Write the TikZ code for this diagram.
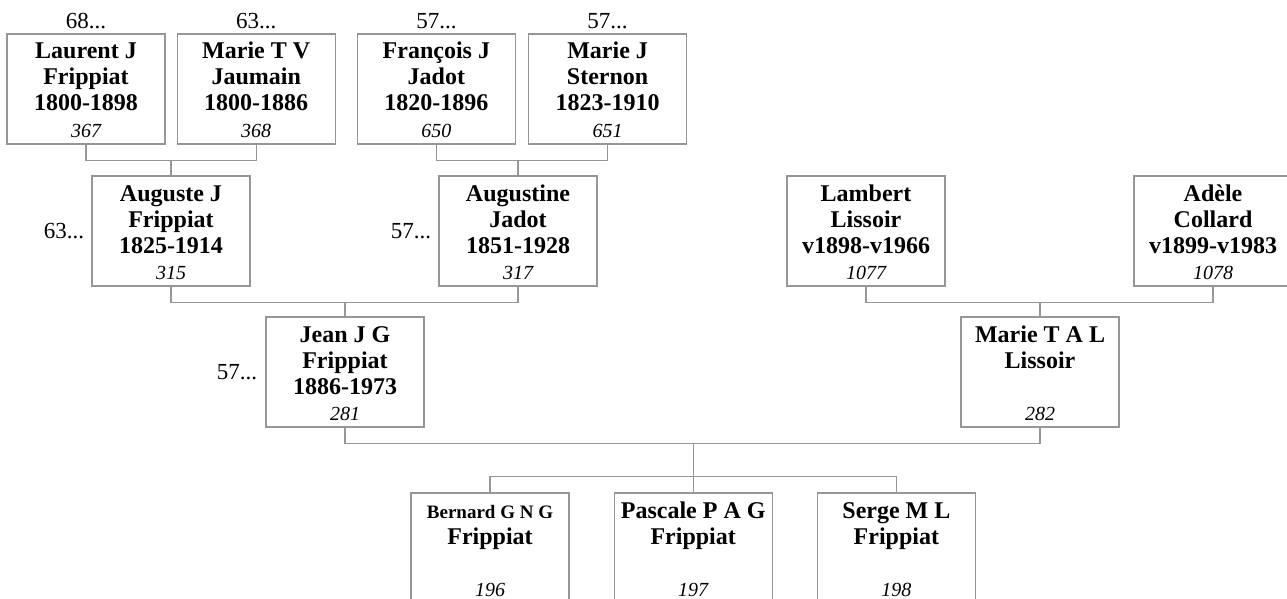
\documentclass[tikz,border=0pt]{standalone}
\usepackage{fontspec}
\setmainfont{Liberation Serif}
\usetikzlibrary{positioning,calc}
\definecolor{linkgray}{RGB}{150,150,150}
\newcommand{\ptop}{\rule{0pt}{22pt}}
\newcommand{\pnum}[1]{\rule[-4pt]{0pt}{4pt}{\fontsize{20}{26}\selectfont\mdseries\itshape #1}}

\begin{document}
\begin{tikzpicture}[x=1pt, y=-1pt,
    person/.style={draw=linkgray, line width=1.2pt, minimum width=158pt, minimum height=110pt, inner sep=0pt, align=center, font=\fontsize{24}{26}\selectfont\bfseries},
    gen/.style={inner sep=0pt, text depth=0pt, font=\fontsize{23}{26}\selectfont},
    link/.style={draw=linkgray, line width=1.2pt}
]
\path[fill=white, use as bounding box] (0,0) rectangle (1287,599);
\clip (0,0) rectangle (1287,599);
% great-grandparents
\node[person] (laurent) at (86,89) {\ptop Laurent J\\Frippiat\\1800-1898\\\pnum{367}};
\node[person, right=11pt of laurent] (marietv) {\ptop Marie T V\\Jaumain\\1800-1886\\\pnum{368}};
\node[person, right=21pt of marietv] (francois) {\ptop François J\\Jadot\\1820-1896\\\pnum{650}};
\node[person, right=12pt of francois] (mariej) {\ptop Marie J\\Sternon\\1823-1910\\\pnum{651}};
\node[gen, above=5pt of laurent] (laurentgen) {68...};
\node[gen, above=5pt of marietv] (marietvgen) {63...};
\node[gen, above=5pt of francois] (francoisgen) {57...};
\node[gen, above=5pt of mariej] (mariejgen) {57...};
% grandparents
\node[person] (auguste) at (171,231) {\ptop Auguste J\\Frippiat\\1825-1914\\\pnum{315}};
\node[person] (augustine) at (518,231) {\ptop Augustine\\Jadot\\1851-1928\\\pnum{317}};
\node[person] (lambert) at (866,231) {\ptop Lambert\\Lissoir\\v1898-v1966\\\pnum{1077}};
\node[person] (adele) at (1213,231) {\ptop Adèle\\Collard\\v1899-v1983\\\pnum{1078}};
\node[gen, left=7pt of auguste] (augustegen) {63...};
\node[gen, left=7pt of augustine] (augustinegen) {57...};
% parents
\node[person] (jean) at (345,372) {\ptop Jean J G\\Frippiat\\1886-1973\\\pnum{281}};
\node[person] (marietal) at (1040,372) {\ptop Marie T A L\\Lissoir\\\mbox{}\\\pnum{282}};
\node[gen, left=8pt of jean] (jeangen) {57...};
% children
\node[person] (bernard) at (490,548) {\ptop{\fontsize{19}{26}\selectfont Bernard G N G}\\Frippiat\\\mbox{}\\\pnum{196}};
\node[person, right=44pt of bernard] (pascale) {\ptop Pascale P A G\\Frippiat\\\mbox{}\\\pnum{197}};
\node[person, right=44pt of pascale] (serge) {\ptop Serge M L\\Frippiat\\\mbox{}\\\pnum{198}};
% family links
\draw[link] (laurent.south) -- ++(0,16) coordinate (b1) -| (marietv.south);
\draw[link] (auguste.north) -- (auguste.north |- b1);
\draw[link] (francois.south) -- ++(0,16) coordinate (b2) -| (mariej.south);
\draw[link] (augustine.north) -- (augustine.north |- b2);
\draw[link] (auguste.south) -- ++(0,16) coordinate (b3) -| (augustine.south);
\draw[link] (jean.north) -- (jean.north |- b3);
\draw[link] (lambert.south) -- ++(0,16) coordinate (b4) -| (adele.south);
\draw[link] (marietal.north) -- (marietal.north |- b4);
\draw[link] (jean.south) -- ++(0,16) coordinate (b5) -| (marietal.south);
\draw[link] (bernard.north) -- ++(0,-16) coordinate (b6) -| (serge.north);
\draw[link] (pascale.north) -- (pascale.north |- b5);
\end{tikzpicture}
\end{document}
